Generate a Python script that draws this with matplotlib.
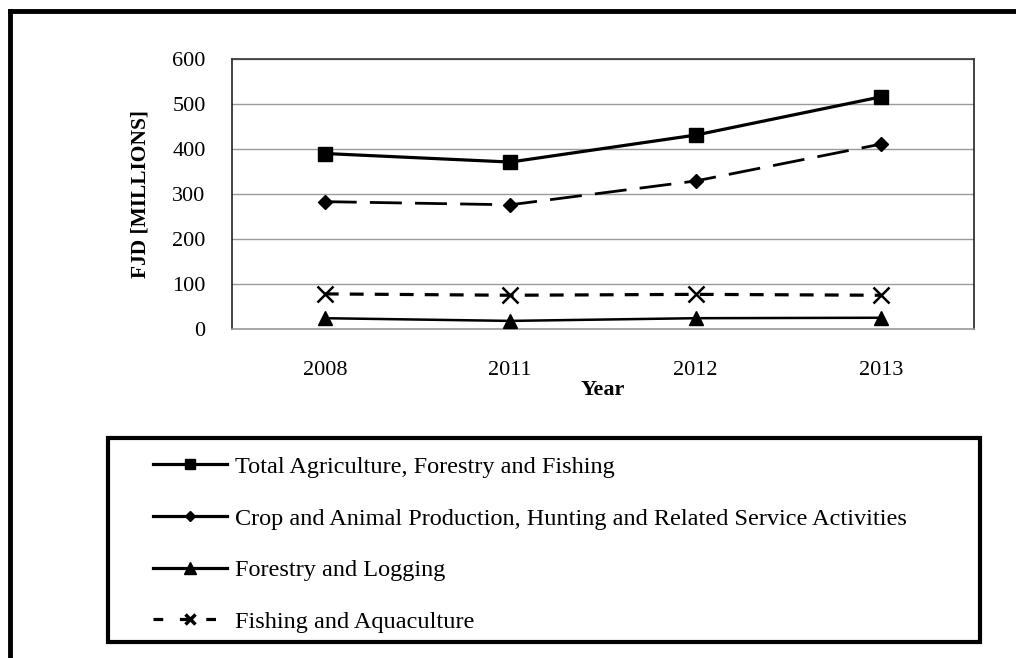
import matplotlib
matplotlib.use('Agg')
import matplotlib.pyplot as plt
from matplotlib.lines import Line2D
from matplotlib.patches import Rectangle

plt.rcParams['font.family'] = ['Liberation Serif', 'DejaVu Serif']
plt.rcParams['lines.scale_dashes'] = False

years = ['2008', '2011', '2012', '2013']
total = [390, 371, 431, 516]
crop = [283, 276, 329, 411]
forestry = [24, 18, 24, 25]
fishing = [78, 75, 77, 75]

labels = ['Total Agriculture, Forestry and Fishing',
          'Crop and Animal Production, Hunting and Related Service Activities',
          'Forestry and Logging',
          'Fishing and Aquaculture']

fig = plt.figure(figsize=(10.16, 6.58), dpi=100)
ax = fig.add_axes([232/1016, 1 - 329/658, 742/1016, 270/658])

x = range(len(years))
ax.plot(x, total, color='black', lw=2.3, marker='s', ms=10, zorder=5)
ax.plot(x, crop, color='black', lw=2.0, marker='D', ms=7, dashes=(23, 9.5), zorder=5)
ax.plot(x, fishing, color='black', lw=2.3, marker='x', ms=11, mew=1.8, dashes=(10, 8), zorder=5)
ax.plot(x, forestry, color='black', lw=1.8, marker='^', ms=10, zorder=5)

ax.set_xlim(-0.5, 3.5)
ax.set_ylim(0, 600)
ax.set_yticks(range(0, 601, 100))
ax.set_xticks(list(x))
ax.set_xticklabels(years)
ax.yaxis.grid(True, color='#9a9a9a', lw=1)
ax.set_axisbelow(True)
ax.tick_params(length=0, labelsize=16)
ax.tick_params(axis='y', pad=19)
ax.tick_params(axis='x', pad=23)
ax.spines['left'].set_color('#222222')
ax.spines['right'].set_color('#222222')
ax.spines['top'].set_color('#333333')
ax.spines['bottom'].set_color('#9a9a9a')
for s in ax.spines.values():
    s.set_linewidth(1.2)

ax.set_xlabel('Year', fontsize=16, fontweight='bold', labelpad=0)
ax.set_ylabel('FJD [MILLIONS]', fontsize=15.5, fontweight='bold', labelpad=16)

# legend box
fig.patches.append(Rectangle((108/1016, 1 - 642/658), 872/1016, 204/658,
                             transform=fig.transFigure, fill=False,
                             edgecolor='black', lw=3))
handles = [
    Line2D([], [], color='black', lw=2.3, marker='s', ms=7),
    Line2D([], [], color='black', lw=2.3, marker='D', ms=5),
    Line2D([], [], color='black', lw=2.3, marker='^', ms=8),
    Line2D([], [], color='black', lw=2.3, marker='x', ms=7, mew=2.5, dashes=(7, 12)),
]
fig.legend(handles, labels, loc='upper left', bbox_to_anchor=(131/1016, 1 - 434/658),
           frameon=False, fontsize=17.5, handlelength=3.05, handletextpad=0.33,
           labelspacing=1.22)

# outer frame (top and left)
fig.add_artist(Line2D([10/1016, 1], [1 - 11/658, 1 - 11/658], transform=fig.transFigure,
                      color='black', lw=3.5))
fig.add_artist(Line2D([10/1016, 10/1016], [0, 1 - 11/658], transform=fig.transFigure,
                      color='black', lw=3.5))

fig.savefig('out.png', dpi=100)
